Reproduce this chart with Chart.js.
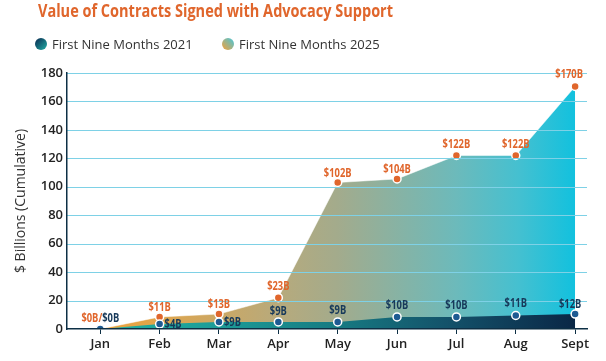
<!DOCTYPE html>
<html>
<head>
<meta charset="utf-8">
<script src="https://cdn.jsdelivr.net/npm/chart.js@4.4.1/dist/chart.umd.min.js"></script>
<style>
  html, body { margin: 0; padding: 0; background: #fff; }
  #wrap { width: 606px; height: 361px; }
</style>
</head>
<body>
<div id="wrap"><canvas id="myChart" width="606" height="361"></canvas></div>
<script>
// chart data
const months = ['Jan', 'Feb', 'Mar', 'Apr', 'May', 'Jun', 'Jul', 'Aug', 'Sept'];
const values2021 = [0, 3.5, 5, 5, 5, 8.5, 8.5, 9.5, 10.5];
const values2025 = [0, 8.5, 10.5, 22, 103, 105.5, 122, 122, 170.5];
const labels2021 = ['$0B', '$4B', '$9B', '$9B', '$9B', '$10B', '$10B', '$11B', '$12B'];
const labels2025 = ['$0B/', '$11B', '$13B', '$23B', '$102B', '$104B', '$122B', '$122B', '$170B'];
const yTicks = [0, 20, 40, 60, 80, 100, 120, 140, 160, 180];

const ORANGE = '#e0662c';
const NAVY = '#17395a';
const GRID = '#7ed1e6';

// where each value label sits relative to its point
const labelPlace = [
    // 2021
    [
        { align: 'left', dx: 2, dy: -11 },
        { align: 'left', dx: 5, dy: 0 },
        { align: 'left', dx: 5, dy: 0 },
        { align: 'center', dx: 0, dy: -11 },
        { align: 'center', dx: 0, dy: -12 },
        { align: 'center', dx: 0, dy: -12 },
        { align: 'center', dx: 0, dy: -12 },
        { align: 'center', dx: 0, dy: -12 },
        { align: 'center', dx: -5, dy: -10 }
    ],
    // 2025
    [
        { align: 'right', dx: 2, dy: -11 },
        { align: 'center', dx: 0, dy: -10 },
        { align: 'center', dx: 0, dy: -10 },
        { align: 'center', dx: 0, dy: -11 },
        { align: 'center', dx: 0, dy: -9 },
        { align: 'center', dx: 0, dy: -10 },
        { align: 'center', dx: 0, dy: -11 },
        { align: 'center', dx: 0, dy: -11 },
        { align: 'center', dx: -6, dy: -12 }
    ]
];

function xGradient(chart, stops) {
    const area = chart.chartArea;
    if (!area) return null;
    const xs = chart.scales.x;
    const g = chart.ctx.createLinearGradient(xs.getPixelForValue(0), 0, xs.getPixelForValue(8), 0);
    stops.forEach(s => g.addColorStop(s[0], s[1]));
    return g;
}

const fill2021 = [[0, '#22b2a2'], [0.25, '#1c9c98'], [0.5, '#167a82'], [0.75, '#134f68'], [1, '#0a2746']];
const fill2025 = [[0, '#f0a23a'], [0.12, '#e0a54c'], [0.375, '#b7aa7c'], [0.5, '#a3ab8c'], [0.75, '#6cbabb'], [0.88, '#45c0d0'], [1, '#12c1de']];

// condensed-looking text by squeezing horizontally
function squeezedText(ctx, text, x, y, align, sx) {
    const w = ctx.measureText(text).width * sx;
    let left = x;
    if (align === 'center') left = x - w / 2;
    if (align === 'right') left = x - w;
    ctx.save();
    ctx.translate(left, y);
    ctx.scale(sx, 1);
    ctx.textAlign = 'left';
    ctx.fillText(text, 0, 0);
    ctx.restore();
}

// horizontal gridlines drawn over the filled areas
const gridOver = {
    id: 'gridOver',
    afterDatasetsDraw(chart) {
        const ctx = chart.ctx;
        const ys = chart.scales.y;
        const area = chart.chartArea;
        ctx.save();
        ctx.strokeStyle = GRID;
        ctx.lineWidth = 1.2;
        yTicks.forEach(v => {
            if (v === 0) return;
            const py = Math.round(ys.getPixelForValue(v)) + 0.5;
            ctx.beginPath();
            ctx.moveTo(area.left, py);
            ctx.lineTo(area.right, py);
            ctx.stroke();
        });
        ctx.restore();
    }
};

const valueLabels = {
    id: 'valueLabels',
    afterDatasetsDraw(chart) {
        const ctx = chart.ctx;
        ctx.save();
        ctx.font = 'bold 13px "Open Sans"';
        ctx.textBaseline = 'middle';
        [1, 0].forEach(di => {
            const meta = chart.getDatasetMeta(di);
            const texts = chart.data.datasets[di].valueText;
            ctx.fillStyle = di === 0 ? NAVY : ORANGE;
            meta.data.forEach((pt, i) => {
                const p = labelPlace[di][i];
                squeezedText(ctx, texts[i], pt.x + p.dx, pt.y + p.dy, p.align, 0.72);
            });
        });
        ctx.restore();
    }
};

const headerPlugin = {
    id: 'header',
    afterDraw(chart) {
        const ctx = chart.ctx;
        ctx.save();
        // title
        ctx.font = 'bold 17px "Open Sans"';
        ctx.fillStyle = ORANGE;
        ctx.textBaseline = 'middle';
        const title = 'Value of Contracts Signed with Advocacy Support';
        const sx = 355 / ctx.measureText(title).width;
        squeezedText(ctx, title, 38, 12, 'left', sx);

        // legend
        const items = [
            { x: 41, text: 'First Nine Months 2021', stops: [[0, '#0c3357'], [1, '#1fa39d']], dir: [-5, -5, 5, 5] },
            { x: 228, text: 'First Nine Months 2025', stops: [[0, '#52c3cf'], [1, '#e8a446']], dir: [5, -5, -5, 5] }
        ];
        ctx.font = '13px "Open Sans"';
        items.forEach(it => {
            const cy = 44;
            const g = ctx.createLinearGradient(it.x + it.dir[0], cy + it.dir[1], it.x + it.dir[2], cy + it.dir[3]);
            it.stops.forEach(s => g.addColorStop(s[0], s[1]));
            ctx.fillStyle = g;
            ctx.beginPath();
            ctx.arc(it.x, cy, 6, 0, Math.PI * 2);
            ctx.fill();
            ctx.fillStyle = '#333';
            ctx.textAlign = 'left';
            ctx.fillText(it.text, it.x + 11, cy + 1);
        });
        ctx.restore();
    }
};

const data = {
    datasets: [
        {
            label: 'First Nine Months 2021',
            data: values2021.map((v, i) => ({ x: i, y: v })),
            valueText: labels2021,
            fill: 'origin',
            backgroundColor: ctx => xGradient(ctx.chart, fill2021),
            borderWidth: 0,
            pointRadius: 4,
            pointBackgroundColor: '#1d5a92',
            pointBorderColor: '#fff',
            pointBorderWidth: 1.5,
            tension: 0
        },
        {
            label: 'First Nine Months 2025',
            data: values2025.map((v, i) => ({ x: i, y: v })),
            valueText: labels2025,
            fill: 'origin',
            backgroundColor: ctx => xGradient(ctx.chart, fill2025),
            borderColor: 'rgba(255,255,255,0.5)',
            borderWidth: 1,
            pointRadius: 4,
            pointBackgroundColor: ORANGE,
            pointBorderColor: '#fff',
            pointBorderWidth: 1.5,
            tension: 0
        }
    ]
};

const config = {
    type: 'line',
    data: data,
    options: {
        responsive: false,
        animation: false,
        layout: { padding: { top: 73, right: 19, left: 0, bottom: 0 } },
        plugins: {
            legend: { display: false },
            tooltip: { enabled: false }
        },
        scales: {
            x: {
                type: 'linear',
                min: -0.56,
                max: 8.2,
                afterBuildTicks: scale => {
                    scale.ticks = months.map((m, i) => ({ value: i }));
                },
                afterFit: scale => { scale.height = 32; },
                ticks: {
                    autoSkip: false,
                    maxRotation: 0,
                    padding: 2,
                    color: '#222',
                    font: { family: 'Open Sans', size: 13, weight: '600' },
                    callback: v => months[v]
                },
                grid: {
                    drawOnChartArea: false,
                    drawTicks: true,
                    tickLength: 5,
                    color: '#0d2f45'
                },
                border: { color: '#0d2f45', width: 1.5, z: 2 }
            },
            y: {
                min: 0,
                max: 180,
                afterBuildTicks: scale => {
                    scale.ticks = yTicks.map(v => ({ value: v }));
                },
                afterFit: scale => { scale.width = 67; },
                ticks: {
                    padding: 4,
                    color: '#222',
                    font: { family: 'Open Sans', size: 13, weight: '600' }
                },
                grid: {
                    drawOnChartArea: false,
                    tickLength: 0
                },
                border: { color: '#0d2f45', width: 1.5, z: 2 },
                title: {
                    display: true,
                    text: '$ Billions (Cumulative)',
                    color: '#333',
                    font: { family: 'Open Sans', size: 14 },
                    padding: { top: 13, bottom: 0 }
                }
            }
        }
    },
    plugins: [gridOver, valueLabels, headerPlugin]
};

const myChart = new Chart(document.getElementById('myChart'), config);
</script>
</body>
</html>
